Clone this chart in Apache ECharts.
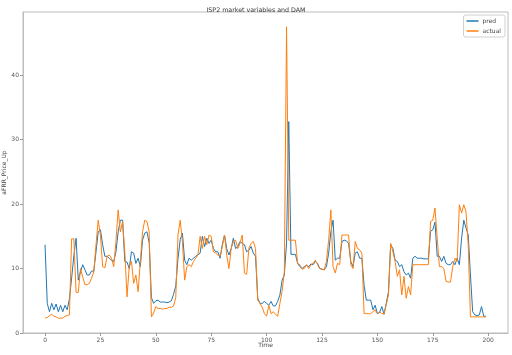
<!DOCTYPE html>
<html>
<head>
<meta charset="utf-8">
<script src="https://cdn.jsdelivr.net/npm/echarts@6/dist/echarts.min.js"></script>
<style>
  html, body { margin: 0; padding: 0; background: #fff; }
  #main { width: 512px; height: 355px; }
</style>
</head>
<body>
<div id="main"></div>
<script>
// values, one per time step (0..199)
const pred = [
  13.7, 4.6, 3.3, 4.6, 3.6, 4.5, 3.3, 4.3, 3.3, 4.3,
  3.6, 5.3, 8.5, 12.0, 14.7, 8.2, 9.5, 10.6, 9.8, 9.0,
  9.0, 9.6, 9.6, 12.6, 15.7, 16.0, 13.7, 11.9, 11.9, 11.6,
  11.3, 11.1, 12.6, 15.7, 17.5, 17.5, 11.1, 11.0, 10.0, 12.6,
  12.4, 10.8, 11.6, 10.3, 14.4, 15.5, 15.7, 14.0, 5.5, 4.6,
  5.0, 5.1, 4.8, 4.8, 4.8, 4.7, 4.8, 5.0, 6.0, 7.3,
  11.5, 14.5, 15.5, 11.3, 10.6, 11.6, 11.3, 11.6, 11.9, 12.1,
  12.4, 15.0, 13.4, 14.7, 13.9, 14.4, 13.1, 12.6, 12.6, 11.6,
  13.7, 15.2, 13.1, 12.1, 13.1, 14.7, 13.1, 13.4, 14.2, 13.9,
  13.7, 12.6, 12.9, 13.4, 12.4, 11.9, 5.4, 4.6, 4.6, 4.9,
  4.6, 4.3, 4.9, 4.2, 4.2, 4.9, 5.9, 8.2, 9.0, 14.0,
  32.8, 12.2, 12.2, 12.2, 10.8, 10.3, 10.0, 10.3, 10.5, 10.3,
  10.7, 10.6, 11.1, 10.8, 10.0, 9.9, 9.8, 10.3, 12.4, 15.7,
  17.5, 11.3, 11.6, 11.6, 14.2, 14.4, 14.3, 13.9, 11.1, 10.3,
  12.4, 12.6, 11.6, 11.6, 7.4, 5.1, 5.1, 5.1, 3.6, 4.3,
  3.0, 3.2, 4.1, 2.9, 4.6, 6.4, 13.7, 13.1, 11.3, 11.1,
  10.3, 10.6, 9.5, 9.0, 9.3, 8.5, 11.6, 11.9, 11.6, 11.6,
  11.6, 11.5, 11.5, 11.5, 15.8, 16.0, 17.2, 11.9, 11.9, 11.1,
  11.9, 10.8, 10.6, 10.6, 11.1, 10.6, 11.6, 10.6, 14.7, 17.5,
  16.3, 15.2, 9.0, 3.3, 2.8, 2.7, 2.8, 4.1, 2.6, 2.6
];

const actual = [
  2.3, 2.4, 2.7, 2.9, 2.6, 2.5, 2.3, 2.3, 2.3, 2.6,
  2.7, 2.8, 14.6, 14.6, 6.3, 6.3, 10.0, 8.7, 7.5, 7.5,
  7.7, 8.5, 9.5, 13.7, 17.5, 15.2, 10.3, 10.1, 11.9, 12.1,
  11.6, 10.3, 14.2, 19.1, 15.7, 17.3, 12.6, 5.6, 10.3, 11.1,
  7.7, 9.0, 6.4, 11.1, 15.7, 17.5, 17.3, 15.7, 2.5, 3.1,
  4.1, 3.8, 3.8, 3.7, 3.8, 3.8, 4.0, 4.0, 4.2, 5.5,
  15.2, 17.5, 14.2, 8.2, 10.3, 10.6, 10.3, 11.1, 11.6, 12.1,
  15.0, 13.1, 15.0, 13.7, 15.2, 15.0, 12.6, 12.4, 12.1, 11.9,
  13.4, 15.2, 12.1, 10.0, 13.1, 14.2, 14.4, 13.1, 13.9, 15.2,
  9.3, 9.1, 13.1, 13.9, 14.2, 13.1, 5.1, 4.6, 4.0, 3.0,
  2.6, 4.3, 3.0, 3.3, 2.9, 2.6, 4.6, 6.5, 9.5, 47.5,
  14.4, 14.4, 14.4, 14.4, 10.8, 10.6, 9.9, 10.0, 10.6, 10.0,
  10.6, 10.8, 11.3, 10.6, 10.0, 9.9, 9.8, 11.1, 14.4, 19.1,
  10.3, 9.3, 10.8, 10.6, 15.2, 15.2, 15.2, 15.2, 10.6, 10.0,
  14.2, 13.1, 12.9, 12.4, 3.0, 3.0, 3.0, 3.0, 3.3, 3.6,
  3.0, 3.3, 3.0, 3.0, 4.4, 5.9, 13.9, 12.6, 11.1, 8.8,
  9.8, 5.9, 8.8, 5.4, 7.2, 5.9, 10.6, 10.6, 10.6, 10.6,
  10.6, 10.6, 10.6, 10.6, 17.3, 17.5, 19.4, 14.7, 10.3, 10.3,
  10.0, 8.0, 7.9, 7.9, 10.3, 11.6, 11.1, 19.9, 18.6, 19.9,
  18.8, 13.7, 2.5, 2.5, 2.5, 2.5, 2.5, 2.5, 2.5, 2.5
];

const xTicks = [0, 25, 50, 75, 100, 125, 150, 175, 200];
const yTicks = [0, 10, 20, 30, 40];

const chart = echarts.init(document.getElementById('main'), null, {renderer: 'canvas'});

const font = 'DejaVu Sans';
const spine = '#bcbcbc';

function pairs(arr) {
  return arr.map((v, i) => [i, v]);
}

const option = {
  animation: false,
  backgroundColor: '#fff',
  textStyle: {fontFamily: font},
  title: {
    text: 'ISP2 market variables and DAM',
    left: 'center',
    top: 2,
    textStyle: {fontSize: 6.3, fontWeight: 'normal', color: '#333', fontFamily: font}
  },
  grid: {
    left: 23, right: 4, top: 12, bottom: 22,
    outerBoundsMode: 'none',
    show: true, borderColor: spine, borderWidth: 1
  },
  legend: {
    orient: 'vertical',
    right: 7,
    top: 15,
    data: ['pred', 'actual'],
    icon: 'rect',
    itemWidth: 12,
    itemHeight: 1.5,
    itemGap: 4,
    padding: [3, 4, 3, 3],
    borderColor: '#d0d0d0',
    borderWidth: 1,
    borderRadius: 2,
    textStyle: {fontSize: 6, color: '#444', fontFamily: font, padding: [0, 0, 0, -1]}
  },
  xAxis: {
    type: 'value',
    min: -9.95,
    max: 208.95,
    name: 'Time',
    nameLocation: 'middle',
    nameGap: 9,
    nameMoveOverlap: false,
    nameTextStyle: {fontSize: 6, color: '#444', fontFamily: font},
    axisLine: {onZero: false, lineStyle: {color: spine, width: 1}},
    axisTick: {show: true, length: 3, customValues: xTicks, lineStyle: {color: '#999'}},
    axisLabel: {customValues: xTicks, fontSize: 6, color: '#555', margin: 4, fontFamily: font},
    splitLine: {show: false}
  },
  yAxis: {
    type: 'value',
    min: 0,
    max: 49.8,
    name: 'aFRR_Price_Up',
    nameLocation: 'middle',
    nameGap: 16,
    nameRotate: 90,
    nameMoveOverlap: false,
    nameTextStyle: {fontSize: 6, color: '#444', fontFamily: font},
    axisLine: {show: true, onZero: false, lineStyle: {color: spine, width: 1}},
    axisTick: {show: true, length: 3, customValues: yTicks, lineStyle: {color: '#999'}},
    axisLabel: {customValues: yTicks, fontSize: 6, color: '#555', margin: 4, fontFamily: font},
    splitLine: {show: false}
  },
  series: [
    {
      name: 'pred',
      type: 'line',
      data: pairs(pred),
      symbol: 'none',
      color: '#1f77b4',
      lineStyle: {color: '#1f77b4', width: 1},
      z: 2
    },
    {
      name: 'actual',
      type: 'line',
      data: pairs(actual),
      symbol: 'none',
      color: '#ff7f0e',
      lineStyle: {color: '#ff7f0e', width: 1},
      z: 3
    }
  ]
};

chart.setOption(option);
</script>
</body>
</html>
